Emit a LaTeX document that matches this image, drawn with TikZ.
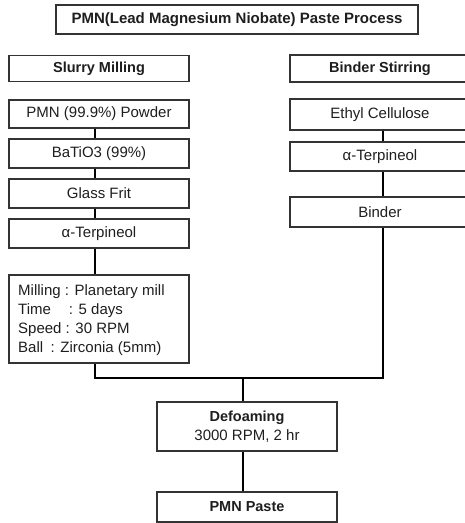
\documentclass[tikz,border=0pt]{standalone}
\usepackage{fontspec}
\setmainfont{Liberation Sans}
\definecolor{ink}{HTML}{1E1E1E}
\definecolor{frame}{HTML}{333333}
\tikzset{
  boxbase/.style={draw=frame, line width=1.3pt, rectangle, inner sep=0pt, text=ink, align=center},
  stepbox/.style={boxbase, minimum width=180pt, minimum height=29pt, font=\fontsize{15}{18}\selectfont},
  headbox/.style={boxbase, minimum width=180pt, minimum height=26pt, font=\fontsize{14.5}{17}\selectfont\bfseries},
  conn/.style={draw=black, line width=2pt}
}
\begin{document}
\begin{tikzpicture}[x=1pt,y=-1pt]
\useasboundingbox (0,0) rectangle (465,523);
% title
\node[boxbase, minimum width=362pt, minimum height=29pt, font=\fontsize{15}{18}\selectfont\bfseries] (title) at (237,19.5) {PMN(Lead Magnesium Niobate) Paste Process};
% left column
\node[headbox] (slurry) at (99,68.5) {Slurry Milling};
\node[stepbox, minimum height=28pt] (pmn) at (99,114) {PMN (99.9\%) Powder};
\node[stepbox] (bat) at (99,153.5) {BaTiO3 (99\%)};
\node[stepbox] (glass) at (99,193.5) {Glass Frit};
\node[stepbox] (terpL) at (99,233.5) {α-Terpineol};
\node[boxbase, minimum width=180pt, minimum height=88pt] (mill) at (99,319) {};
\node[anchor=west, align=left, text=ink, inner sep=0pt, font=\fontsize{15}{19}\selectfont] (milltxt) at (18,320)
 {Milling : Planetary mill\\Time\hspace{1.2em}: 5 days\\Speed : 30 RPM\\Ball\hspace{0.5em}: Zirconia (5mm)};
% right column
\node[headbox, minimum height=27pt] (stir) at (380,68.5) {Binder Stirring};
\node[stepbox, minimum height=31pt] (ethyl) at (380,114.5) {Ethyl Cellulose};
\node[stepbox] (terpR) at (380,156.5) {α-Terpineol};
\node[stepbox, minimum height=30pt] (binder) at (380,212) {Binder};
% bottom
\node[boxbase, minimum width=180pt, minimum height=49pt, font=\fontsize{15}{19}\selectfont] (defoam) at (247,426.5) {{\fontsize{14.5}{19}\selectfont\bfseries Defoaming}\\3000 RPM, 2 hr};
\node[headbox, minimum height=30pt] (paste) at (247,507) {PMN Paste};
% connector guides
\coordinate (lx) at (95,0);
\coordinate (rx) at (383,0);
\coordinate (bus) at (243,378);
% connectors
\draw[conn] (pmn.south -| lx) -- (bat.north -| lx);
\draw[conn] (bat.south -| lx) -- (glass.north -| lx);
\draw[conn] (glass.south -| lx) -- (terpL.north -| lx);
\draw[conn] (terpL.south -| lx) -- (mill.north -| lx);
\draw[conn] (ethyl.south -| rx) -- (terpR.north -| rx);
\draw[conn] (terpR.south -| rx) -- (binder.north -| rx);
\draw[conn] (mill.south -| lx) |- (bus) -| (binder.south -| rx);
\draw[conn] (bus) -- (defoam.north -| bus);
\draw[conn] (defoam.south -| bus) -- (paste.north -| bus);
\end{tikzpicture}
\end{document}
